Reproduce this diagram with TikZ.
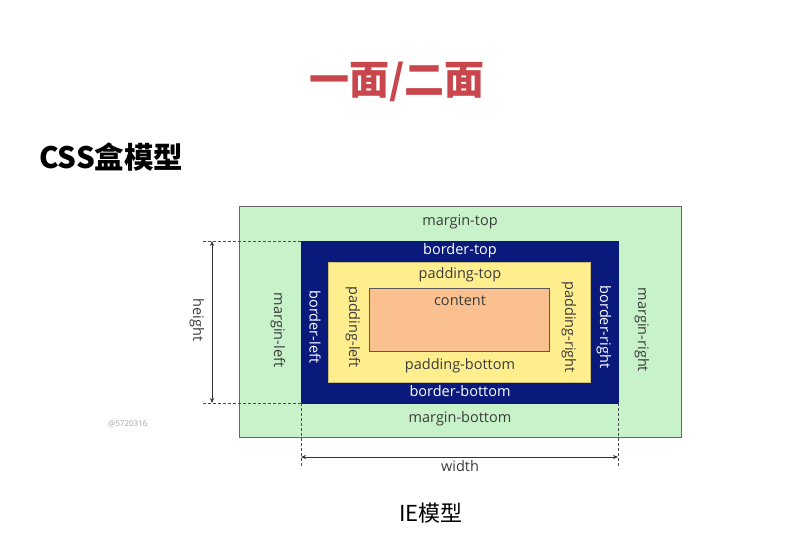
\documentclass[tikz,border=0pt]{standalone}
\usepackage{fontspec}
\setmainfont{Open Sans}
\newfontfamily\cjk{Noto Sans CJK SC}
\usetikzlibrary{arrows.meta}
\definecolor{marginfill}{HTML}{C8F2C9}
\definecolor{borderfill}{HTML}{0A1A7C}
\definecolor{paddingfill}{HTML}{FFEE8E}
\definecolor{contentfill}{HTML}{FBC08F}
\definecolor{titlered}{HTML}{C9474C}
\definecolor{labelgray}{HTML}{3C3C3C}
\tikzset{
  box/.style={draw=#1, line width=0.9pt},
  lbl/.style={font=\fontsize{14.5}{16}\selectfont, inner sep=0pt, text=labelgray},
  lblw/.style={lbl, text=white},
  guide/.style={densely dashed, draw=black!70, line width=0.8pt},
  dim/.style={draw=black!80, line width=0.8pt, {Stealth[length=5pt,width=4pt]}-{Stealth[length=5pt,width=4pt]}},
}
\begin{document}
\begin{tikzpicture}[x=1pt,y=-1pt]
  \useasboundingbox[fill=white] (0,0) rectangle (786,545);

  % headings
  \node[font=\cjk\bfseries\fontsize{40}{44}\selectfont, text=titlered] (title) at (397,82) {一面/二面};
  \node[font=\cjk\bfseries\fontsize{29.5}{32}\selectfont, anchor=west, inner sep=0pt] (heading) at (39,157) {CSS盒模型};
  \node[font=\cjk\fontsize{22}{26}\selectfont] (caption) at (431,513) {IE模型};
  \node[font=\fontsize{8}{10}\selectfont, text=black!35, anchor=west, inner sep=0pt] (mark) at (108,424) {@5720316};

  % nested boxes
  \filldraw[box=black!60, fill=marginfill] (239,206) rectangle (681,437);
  \filldraw[box=borderfill, fill=borderfill] (301,241) rectangle (618,403);
  \filldraw[box=paddingfill!80!black, fill=paddingfill, line width=0.5pt] (328,262) rectangle (590,382);
  \filldraw[box=black!65, fill=contentfill, line width=0.8pt] (369,288) rectangle (549,351);

  % horizontal labels
  \node[lbl] (mt) at (460,222) {margin-top};
  \node[lblw] (bt) at (460,251) {border-top};
  \node[lbl] (pt) at (460,275) {padding-top};
  \node[lbl] (ct) at (460,301) {content};
  \node[lbl] (pb) at (460,366) {padding-bottom};
  \node[lblw] (bb) at (460,391) {border-bottom};
  \node[lbl] (mb) at (460,419) {margin-bottom};

  % vertical labels
  \node[lbl, rotate=-90] (ml) at (278,330) {margin-left};
  \node[lblw, rotate=-90] (bl) at (315,327) {border-left};
  \node[lbl, rotate=-90] (pl) at (353,327) {padding-left};
  \node[lbl, rotate=-90] (pr) at (569,327) {padding-right};
  \node[lblw, rotate=-90] (br) at (604,327) {border-right};
  \node[lbl, rotate=-90] (mr) at (642,330) {margin-right};

  % dimension guides
  \coordinate (htop) at (203,241);
  \coordinate (hbot) at (203,403);
  \coordinate (btl) at (301,241);
  \coordinate (bbl) at (301,403);
  \coordinate (bbr) at (618,403);
  \coordinate (wl) at (301,466);
  \coordinate (wr) at (618,466);
  \draw[guide] (htop) -- (btl);
  \draw[guide] (hbot) -- (bbl);
  \draw[guide] (bbl) -- (wl);
  \draw[guide] (bbr) -- (wr);
  \coordinate (ha) at (212,241);
  \coordinate (hb) at (212,403);
  \draw[dim] (ha) -- (hb);
  \coordinate (wa) at (301,457);
  \coordinate (wb) at (618,457);
  \draw[dim] (wa) -- (wb);
  \node[lbl, rotate=-90] (hl) at (197,320) {height};
  \node[lbl] (wlbl) at (460,466) {width};
\end{tikzpicture}
\end{document}
